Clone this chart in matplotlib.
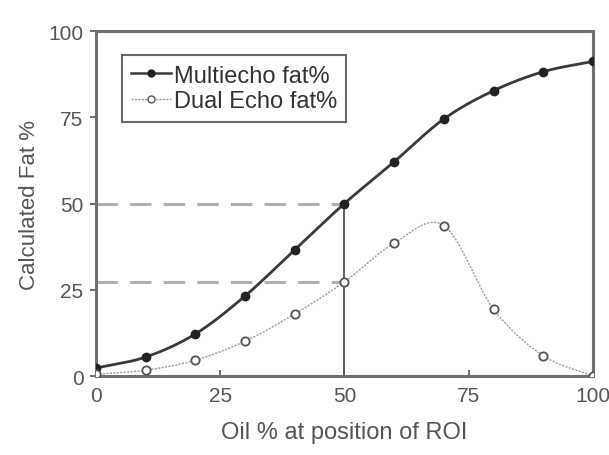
import numpy as np
import matplotlib
matplotlib.use("Agg")
import matplotlib.pyplot as plt
from matplotlib.lines import Line2D

plt.rcParams['font.family'] = ['Liberation Sans', 'DejaVu Sans']

oil_pct = [0, 10, 20, 30, 40, 50, 60, 70, 80, 90, 100]
multiecho_fat = [2.3, 5.5, 12.2, 23.2, 36.6, 50, 62.1, 74.5, 82.7, 88.2, 91.2]
dual_echo_fat = [0.5, 1.7, 4.6, 10.1, 18, 27.3, 38.5, 43.6, 19.4, 5.9, 0]
ticks = [0, 25, 50, 75, 100]
ref_x = 50
ref_levels = [50, 27.3]


def smooth(x, y, n=30):
    """Catmull-Rom curve through the points (like a spreadsheet smoothed line)."""
    x = np.asarray(x, float)
    y = np.asarray(y, float)
    px = np.concatenate([[2 * x[0] - x[1]], x, [2 * x[-1] - x[-2]]])
    py = np.concatenate([[2 * y[0] - y[1]], y, [2 * y[-1] - y[-2]]])
    xs, ys = [], []
    t = np.linspace(0, 1, n, endpoint=False)
    for i in range(1, len(px) - 2):
        for arr, out in ((px, xs), (py, ys)):
            p0, p1, p2, p3 = arr[i - 1], arr[i], arr[i + 1], arr[i + 2]
            out.append(0.5 * ((2 * p1) + (-p0 + p2) * t
                              + (2 * p0 - 5 * p1 + 4 * p2 - p3) * t ** 2
                              + (-p0 + 3 * p1 - 3 * p2 + p3) * t ** 3))
    xs.append([x[-1]])
    ys.append([y[-1]])
    return np.concatenate(xs), np.concatenate(ys)


fig = plt.figure(figsize=(6.09, 4.56), dpi=100)
ax = fig.add_axes([0.1576, 0.1732, 0.816, 0.7566])

# reference guides
for lvl in ref_levels:
    ax.plot([0, ref_x], [lvl, lvl], color='#b0b0b0', lw=2.2,
            dashes=(7, 4), zorder=1)
ax.plot([ref_x, ref_x], [0, ref_levels[0]], color='#444444', lw=1.2, zorder=1)

mx, my = smooth(oil_pct, multiecho_fat)
dx, dy = smooth(oil_pct, dual_echo_fat)
ax.plot(mx, my, color='#3a3a3a', lw=2.0, zorder=2)
ax.plot(dx, dy, color='#9a9a9a', lw=1.0, ls=(0, (1.5, 1)), zorder=2)
ax.plot(oil_pct, multiecho_fat, 'o', ms=6, color='#222222', zorder=3)
ax.plot(oil_pct, dual_echo_fat, 'o', ms=6, mfc='white', mec='#555555',
        mew=1.3, zorder=3)

ax.set_xlim(0, 100)
ax.set_ylim(0, 100)
ax.set_xticks(ticks)
ax.set_yticks(ticks)
ax.tick_params(labelsize=15, colors='#555555', length=4, width=1.2, pad=5)
ax.tick_params(axis='x', direction='in', pad=7)
ax.tick_params(axis='y', direction='out')
for s in ax.spines.values():
    s.set_color('#707070')
    s.set_linewidth(2.2)

ax.set_xlabel('Oil % at position of ROI', fontsize=17, color='#555555',
              labelpad=12)
ax.set_ylabel('Calculated Fat %', fontsize=16, color='#555555', labelpad=6)

handles = [
    Line2D([], [], color='#3a3a3a', lw=1.8, marker='o', ms=5,
           mfc='#222222', mec='#222222'),
    Line2D([], [], color='#9a9a9a', lw=1.0, ls=(0, (1.5, 1)), marker='o',
           ms=5, mfc='white', mec='#555555'),
]
leg = ax.legend(handles, ['Multiecho fat%', 'Dual Echo fat%'],
                loc='upper left', bbox_to_anchor=(0.052, 0.93), fontsize=17,
                frameon=True, fancybox=False, handlelength=1.7,
                handletextpad=0.1, borderpad=0.4, labelspacing=0.15,
                borderaxespad=0)
leg.get_frame().set_edgecolor('#444444')
leg.get_frame().set_linewidth(1.5)
for t in leg.get_texts():
    t.set_color('#333333')

fig.savefig('out.png', dpi=100)
